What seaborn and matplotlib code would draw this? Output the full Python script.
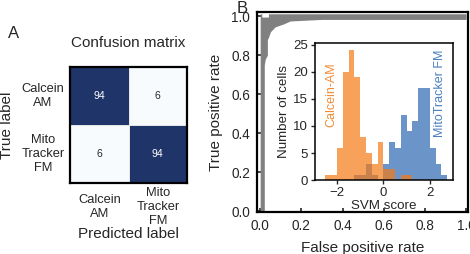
import matplotlib
matplotlib.use("Agg")
import matplotlib.pyplot as plt
from matplotlib.colors import LinearSegmentedColormap
from matplotlib.ticker import FormatStrFormatter
import pandas as pd
import seaborn as sns

# confusion matrix (percent)
class_labels = ["Calcein\nAM", "Mito\nTracker\nFM"]
cm_values = [[94, 6],
             [6, 94]]

# ROC envelope (gray band between lower and upper curves)
roc_fpr = [0, 0.008, 0.008, 0.02, 0.02, 0.025, 0.035, 0.035, 0.04, 0.04,
           0.05, 0.073, 0.114, 0.146, 0.3, 1.0]
roc_tpr_lower = [0, 0, 0, 0, 0.75, 0.78, 0.80, 0.88, 0.89, 0.89,
                 0.92, 0.945, 0.96, 0.975, 0.983, 0.983]
roc_tpr_upper = [1.012, 1.012, 0.995, 0.995, 0.995, 0.995, 0.995, 0.995, 0.995, 1.012,
                 1.012, 1.012, 1.012, 1.012, 1.012, 1.012]

# SVM score histograms (bin width 0.25)
bin_edges = [-2.5, -2.25, -2.0, -1.75, -1.5, -1.25, -1.0, -0.75, -0.5, -0.25,
             0.0, 0.25, 0.5, 0.75, 1.0, 1.25, 1.5, 1.75, 2.0, 2.25, 2.5, 2.75]
calcein_counts = [1, 1, 6, 20, 24, 19, 8, 5, 3, 7,
                  2, 2, 0, 1, 1, 0, 0, 0, 0, 0, 0]
mito_counts = [0, 0, 0, 0, 0, 1, 1, 3, 1, 0,
               3, 7, 6, 12, 9, 11, 17, 17, 6, 3, 1]

sns.set_style("ticks")
plt.rcParams['font.family'] = ['Liberation Sans', 'DejaVu Sans']

fig = plt.figure(figsize=(4.7, 2.54), dpi=100)

# ---- Panel A: confusion matrix ----
ax_cm = fig.add_axes([0.149, 0.280, 0.249, 0.457])
cm_df = pd.DataFrame(cm_values, index=class_labels, columns=class_labels)
cmap = LinearSegmentedColormap.from_list("cm", ["#f7fbfe", "#1f3468"])
sns.heatmap(cm_df, ax=ax_cm, cmap=cmap, annot=True, fmt="d", cbar=False,
            linewidths=0.6, linecolor="#e6e6e6", annot_kws={"size": 7.5})
for s in ax_cm.spines.values():
    s.set_visible(True)
    s.set_linewidth(1.6)
    s.set_color("black")
ax_cm.set_title("Confusion matrix", fontsize=11, pad=14)
ax_cm.tick_params(length=0, labelsize=9.3)
ax_cm.tick_params(axis="x", pad=17.5)
ax_cm.tick_params(axis="y", pad=19.5)
plt.setp(ax_cm.get_yticklabels(), rotation=0, ha="center", multialignment="center")
plt.setp(ax_cm.get_xticklabels(), rotation=0, va="center", multialignment="center")
ax_cm.set_xlabel("Predicted label", fontsize=11)
ax_cm.set_ylabel("True label", fontsize=11)
ax_cm.xaxis.set_label_coords(0.5, -0.38)
ax_cm.yaxis.set_label_coords(-0.48, 0.5)

# ---- Panel B: ROC band ----
ax_roc = fig.add_axes([0.547, 0.165, 0.449, 0.787])
ax_roc.fill_between(roc_fpr, roc_tpr_lower, roc_tpr_upper, color="#808080", linewidth=0)
ax_roc.set_xlim(-0.015, 1.01)
ax_roc.set_ylim(-0.005, 1.02)
ax_roc.set_xticks([0, 0.2, 0.4, 0.6, 0.8, 1.0])
ax_roc.set_yticks([0, 0.2, 0.4, 0.6, 0.8, 1.0])
ax_roc.xaxis.set_major_formatter(FormatStrFormatter("%.1f"))
ax_roc.yaxis.set_major_formatter(FormatStrFormatter("%.1f"))
ax_roc.tick_params(direction="in", length=3, width=1.2, labelsize=9.8, pad=5)
for s in ax_roc.spines.values():
    s.set_visible(True)
    s.set_linewidth(1.6)
    s.set_color("black")
ax_roc.set_xlabel("False positive rate", fontsize=11, labelpad=6)
ax_roc.set_ylabel("True positive rate", fontsize=11, labelpad=6)

# ---- inset: SVM score histograms ----
ax_in = fig.add_axes([0.670, 0.291, 0.294, 0.539])
centers = [(a + b) / 2 for a, b in zip(bin_edges[:-1], bin_edges[1:])]
sns.histplot(x=centers, weights=mito_counts, bins=bin_edges, ax=ax_in,
             color="#6b94c9", alpha=1.0, linewidth=0, element="bars")
sns.histplot(x=centers, weights=calcein_counts, bins=bin_edges, ax=ax_in,
             color="#f57916", alpha=0.7, linewidth=0, element="bars")
ax_in.set_facecolor("white")
ax_in.set_xlim(-2.95, 3.0)
ax_in.set_ylim(0, 25.3)
ax_in.set_xticks([-2, 0, 2])
ax_in.set_yticks([0, 5, 10, 15, 20, 25])
ax_in.tick_params(direction="out", length=3, width=1, labelsize=9.5, pad=2)
for s in ax_in.spines.values():
    s.set_visible(True)
    s.set_linewidth(1.1)
    s.set_color("black")
ax_in.set_xlabel("SVM score", fontsize=9.6, labelpad=1)
ax_in.set_ylabel("Number of cells", fontsize=9.6, labelpad=2)
ax_in.text(-2.26, 15.7, "Calcein-AM", rotation=90, ha="center", va="center",
           color="#f28a35", fontsize=9)
ax_in.text(2.42, 16.0, "MitoTracker FM", rotation=90, ha="center", va="center",
           color="#4a7fc0", fontsize=9)

fig.text(0.017, 0.87, "A", fontsize=12, ha="left", va="center")
fig.text(0.504, 0.968, "B", fontsize=12, ha="left", va="center")

fig.savefig("out.png", dpi=100)
